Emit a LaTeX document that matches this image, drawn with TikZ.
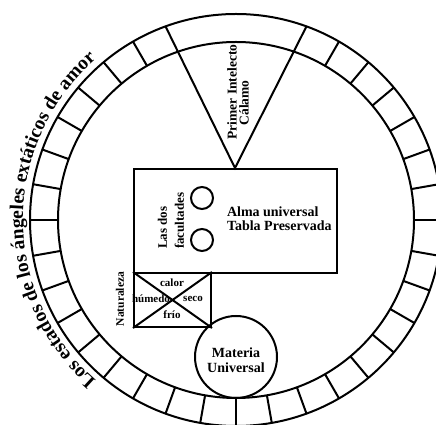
\documentclass[tikz,border=0pt]{standalone}
\usepackage{fontspec}
\setmainfont{Liberation Serif}
\usetikzlibrary{calc,decorations.text}
\begin{document}
\begin{tikzpicture}[x=1pt,y=1pt,line width=2pt,
  lbl/.style={font=\bfseries, inner sep=0pt, align=center},
  small/.style={lbl, font=\bfseries\fontsize{11}{11}\selectfont},
  figbox/.style={draw, inner sep=0pt, line width=2pt}]
\useasboundingbox (0,0) rectangle (436,425);
\clip (0,0) rectangle (436,425);
\coordinate (C) at (236,205);
% ring
\draw (C) circle[radius=206];
\draw (C) circle[radius=178];
\foreach \a in {0,10,...,60,120,130,...,350}
  \draw ($(C)+(\a:178)$) -- ($(C)+(\a:206)$);
% triangle
\coordinate (apex) at (235,257);
\coordinate (tl) at ($(C)+(110:206)$);
\coordinate (tr) at ($(C)+(70:206)$);
\draw (tl) -- (apex) -- (tr);
% boxes
\node (alma) [figbox, anchor=north west, minimum width=203, minimum height=104] at (133,257) {};
\node (nat) [figbox, anchor=north west, minimum width=77, minimum height=54] at (133,153) {};
\draw (nat.north west) -- (nat.south east);
\draw (nat.south west) -- (nat.north east);
\node (f1) [figbox, circle, minimum size=22] at (202,227) {};
\node (f2) [figbox, circle, minimum size=22] at (202,185) {};
\node (mat) [figbox, circle, minimum size=82] at (236,68) {};
% texts
\node (primer) [lbl, rotate=90, font=\bfseries\fontsize{13.5}{14}\selectfont] at (232,333) {Primer Intelecto};
\node (calamo) [lbl, rotate=90, font=\bfseries\fontsize{13.5}{14}\selectfont] at (244,322) {Cálamo};
\node (almat) [lbl, anchor=west, align=left, font=\bfseries\fontsize{14}{14}\selectfont] at (226,206) {Alma universal\\Tabla Preservada};
\node (dos) [lbl, rotate=90, anchor=west, align=left, font=\bfseries\fontsize{13}{17}\selectfont] at (171,175) {Las dos\\facultades};
\node (natt) [lbl, rotate=90, font=\bfseries\fontsize{11.5}{11.5}\selectfont] at (120,126) {Naturaleza};
\node (calor) [small] at (172,142) {calor};
\node (humedo) [small] at (151,126) {húmedo};
\node (seco) [small] at (193,126) {seco};
\node (frio) [small] at (172,110) {frío};
\node (matt) [lbl, font=\bfseries\fontsize{14}{15}\selectfont] at (236,65) {Materia\\Universal};
% curved text
\path[decorate, decoration={text along path, text align=center,
  text={|\bfseries\fontsize{19.5}{19.5}\selectfont|Los estados de los ángeles extáticos de amor}}]
  ($(C)+(245:213)$) arc[start angle=245, end angle=115, radius=213];
\end{tikzpicture}
\end{document}
